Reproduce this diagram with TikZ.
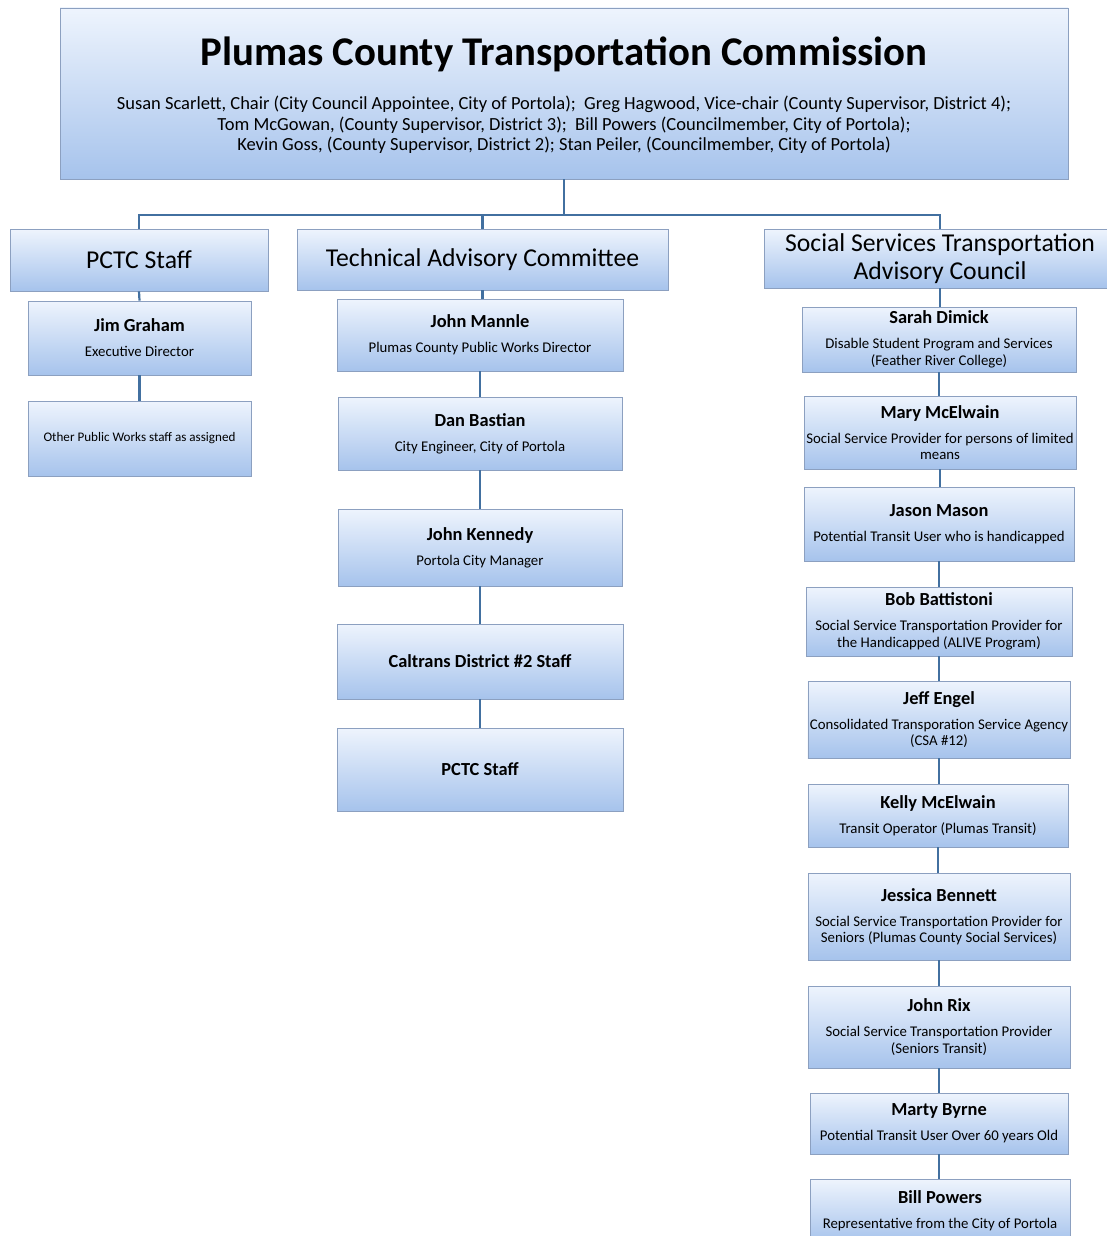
\documentclass[tikz,border=0pt]{standalone}
\usepackage{fontspec}
\setmainfont{Carlito}
\usetikzlibrary{shadows}
\definecolor{boxtop}{RGB}{238,244,253}
\definecolor{boxbot}{RGB}{166,195,236}
\definecolor{boxedge}{RGB}{140,160,192}
\definecolor{linkc}{RGB}{66,112,160}
\tikzset{
  orgbox/.style={draw=boxedge, line width=0.7pt, top color=boxtop, bottom color=boxbot,
    inner sep=2pt, align=center, anchor=center, font=\fontsize{14.8}{16.5}\selectfont,
    drop shadow={shadow xshift=1.2pt, shadow yshift=-1.2pt, opacity=0.35, fill=black!60}},
  plaintext/.style={inner sep=0pt, align=center, anchor=center},
  link/.style={draw=linkc, line width=2.2pt},
  headfont/.style={font=\fontsize{25.7}{28}\selectfont},
}
\newcommand{\nm}[1]{{\fontsize{18.4}{16.5}\selectfont\bfseries #1}}
\begin{document}
\begin{tikzpicture}[x=1pt,y=-1pt]
\useasboundingbox (0,0) rectangle (1107,1236);
% top
\node[orgbox, minimum width=1008pt, minimum height=171pt] (top) at (564,93.5) {};
\node[plaintext, font=\fontsize{40.8}{44}\selectfont\bfseries] (title) at (564,54) {Plumas County Transportation Commission};
\node[plaintext, font=\fontsize{18.5}{20.5}\selectfont] (members) at (564,125)
 {Susan Scarlett, Chair (City Council Appointee, City of Portola);\ \ Greg Hagwood, Vice-chair (County Supervisor, District 4);\\
  Tom McGowan, (County Supervisor, District 3);\ \ Bill Powers (Councilmember, City of Portola);\\
  Kevin Goss, (County Supervisor, District 2); Stan Peiler, (Councilmember, City of Portola)};
% headers
\node[orgbox, headfont, minimum width=258pt, minimum height=62pt] (pctch) at (139,260) {PCTC Staff};
\node[orgbox, headfont, minimum width=371pt, minimum height=61pt] (tach) at (482.5,259.5) {Technical Advisory Committee};
\node[orgbox, headfont, minimum width=352pt, minimum height=59pt] (ssh) at (940,258.5) {Social Services Transportation\\Advisory Council};
% PCTC column
\node[orgbox, minimum width=223pt, minimum height=74pt] (jim) at (139.5,338) {\nm{Jim Graham}\\[8.5pt]Executive Director};
\node[orgbox, font=\fontsize{13.1}{15}\selectfont, minimum width=223pt, minimum height=75pt] (other) at (139.5,438.5) {Other Public Works staff as assigned};
% TAC column
\node[orgbox, minimum width=286pt, minimum height=72pt] (mannle) at (480,335) {\nm{John Mannle}\\[8.5pt]Plumas County Public Works Director};
\node[orgbox, minimum width=284pt, minimum height=73pt] (bastian) at (480,433.5) {\nm{Dan Bastian}\\[8.5pt]City Engineer, City of Portola};
\node[orgbox, minimum width=284pt, minimum height=77pt] (kennedy) at (480,547.5) {\nm{John Kennedy}\\[8.5pt]Portola City Manager};
\node[orgbox, minimum width=286pt, minimum height=75pt] (caltrans) at (480,661.5) {\nm{Caltrans District \#2 Staff}};
\node[orgbox, minimum width=286pt, minimum height=83pt] (pctcb) at (480,769.5) {\nm{PCTC Staff}};
% SSTAC column
\node[orgbox, minimum width=274pt, minimum height=65pt] (sarah) at (939,339.5) {\nm{Sarah Dimick}\\[8.5pt]Disable Student Program and Services\\(Feather River College)};
\node[orgbox, minimum width=272pt, minimum height=73pt] (mary) at (940,432.5) {\nm{Mary McElwain}\\[8.5pt]Social Service Provider for persons of limited\\means};
\node[orgbox, minimum width=270pt, minimum height=74pt] (jason) at (939,524) {\nm{Jason Mason}\\[8.5pt]Potential Transit User who is handicapped};
\node[orgbox, minimum width=266pt, minimum height=69pt] (bob) at (939,621.5) {\nm{Bob Battistoni}\\[8.5pt]Social Service Transportation Provider for\\the Handicapped (ALIVE Program)};
\node[orgbox, minimum width=262pt, minimum height=77pt] (jeff) at (939,719.5) {\nm{Jeff Engel}\\[8.5pt]Consolidated Transporation Service Agency\\(CSA \#12)};
\node[orgbox, minimum width=260pt, minimum height=63pt] (kelly) at (938,815.5) {\nm{Kelly McElwain}\\[8.5pt]Transit Operator (Plumas Transit)};
\node[orgbox, minimum width=262pt, minimum height=87pt] (jessica) at (939,916.5) {\nm{Jessica Bennett}\\[8.5pt]Social Service Transportation Provider for\\Seniors (Plumas County Social Services)};
\node[orgbox, minimum width=262pt, minimum height=82pt] (rix) at (939,1027) {\nm{John Rix}\\[8.5pt]Social Service Transportation Provider\\(Seniors Transit)};
\node[orgbox, minimum width=258pt, minimum height=61pt] (marty) at (939,1123.5) {\nm{Marty Byrne}\\[8.5pt]Potential Transit User Over 60 years Old};
\node[orgbox, minimum width=260pt, minimum height=64pt] (bill) at (940,1211) {\nm{Bill Powers}\\[8.5pt]Representative from the City of Portola};
% connectors
\coordinate (bus) at (564,215);
\draw[link] (top.south) -- (bus);
\draw[link] (pctch.north) -- (pctch.north |- bus) -- (ssh.north |- bus) -- (ssh.north);
\draw[link] (tach.north) -- (tach.north |- bus);
\draw[link] (pctch.south) -- (jim.north);
\draw[link] (jim.south) -- (other.north);
\draw[link] (tach.south) -- (tach.south |- mannle.north);
\draw[link] (mannle.south) -- (bastian.north);
\draw[link] (bastian.south) -- (kennedy.north);
\draw[link] (kennedy.south) -- (caltrans.north);
\draw[link] (caltrans.south) -- (pctcb.north);
\draw[link] (ssh.south) -- (ssh.south |- sarah.north);
\draw[link] (sarah.south) -- (sarah.south |- mary.north);
\draw[link] (mary.south) -- (mary.south |- jason.north);
\draw[link] (jason.south) -- (jason.south |- bob.north);
\draw[link] (bob.south) -- (bob.south |- jeff.north);
\draw[link] (jeff.south) -- (jeff.south |- kelly.north);
\draw[link] (kelly.south) -- (kelly.south |- jessica.north);
\draw[link] (jessica.south) -- (jessica.south |- rix.north);
\draw[link] (rix.south) -- (rix.south |- marty.north);
\draw[link] (marty.south) -- (marty.south |- bill.north);
\end{tikzpicture}
\end{document}
